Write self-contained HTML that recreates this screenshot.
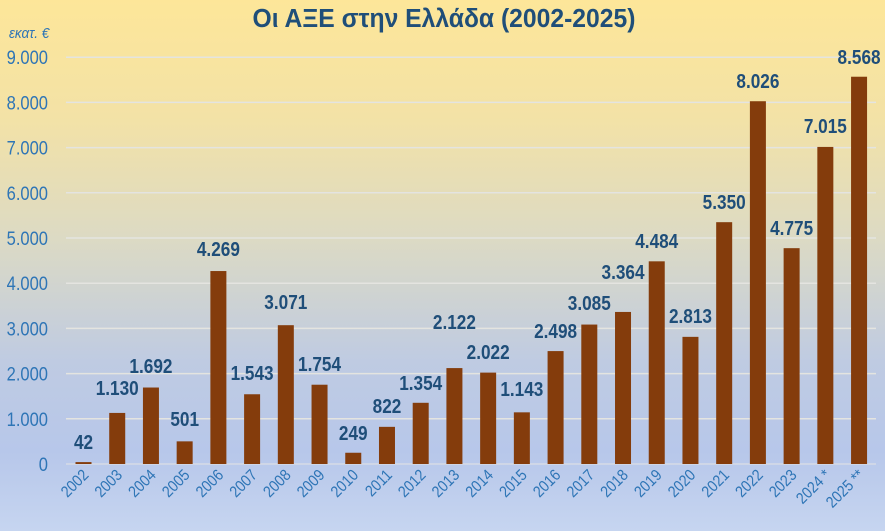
<!DOCTYPE html>
<html><head><meta charset="utf-8"><style>
html,body{margin:0;padding:0;width:885px;height:531px;overflow:hidden}
html{background:#c6d5f0}
body{background:linear-gradient(180deg,#fde699 0%,#f3e2a6 22%,#dcdac4 45%,#bfcbe2 68%,#b7c7ea 85%,#c6d5f0 100%);font-family:"Liberation Sans",sans-serif}
svg{display:block}
</style></head><body>
<svg width="885" height="531" xmlns="http://www.w3.org/2000/svg" font-family="Liberation Sans, sans-serif">
<text transform="translate(444 27) scale(0.95 1)" text-anchor="middle" font-size="26" font-weight="bold" fill="#1f4e79">Οι ΑΞΕ στην Ελλάδα (2002-2025)</text>
<text transform="translate(9 38) scale(0.9 1)" font-size="15" font-style="italic" fill="#2e75b6">εκατ. €</text>
</svg>
<script>
const s=document.querySelector('svg');const ns='http://www.w3.org/2000/svg';
function el(t,a,txt){const e=document.createElementNS(ns,t);for(const k in a)e.setAttribute(k,a[k]);if(txt!==undefined)e.textContent=txt;s.appendChild(e);return e;}
const y0=464,k=45.2/1000;
for(let i=0;i<=9;i++){const y=y0-i*1000*k;
el('line',{x1:66,x2:876,y1:y,y2:y,stroke:i==0?'#d6dbe6':'#e4e4e0','stroke-width':1.5});
el('text',{transform:`translate(48 ${y+7}) scale(0.87 1)`,'text-anchor':'end','font-size':19,fill:'#2e75b6'},i==0?'0':i+'.000');}
const d=[42,1130,1692,501,4269,1543,3071,1754,249,822,1354,2122,2022,1143,2498,3085,3364,4484,2813,5350,8026,4775,7015,8568];
const ly=[442,388,366,419,249,373,302,364,433,406,383,322,352,389,331,303,272,241,316,202,81,228,126,57];
const f=v=>v>=1000?Math.floor(v/1000)+'.'+String(v%1000).padStart(3,'0'):String(v);
d.forEach((v,i)=>{const cx=83.5+i*33.72;const h=v*k;
el('rect',{x:cx-8,y:y0-h,width:16,height:h,fill:'#843c0c'});
el('text',{transform:`translate(${cx} ${ly[i]+7}) scale(0.86 1)`,'text-anchor':'middle','font-size':20,'font-weight':'bold',fill:'#1f4e79'},f(v));
const lab=2002+i+(i==22?' *':i==23?' **':'');
el('text',{transform:`translate(${cx+6} 476) rotate(-45) scale(0.88 1)`,'text-anchor':'end','font-size':16,fill:'#2e75b6'},lab);
});
</script>
</body></html>
